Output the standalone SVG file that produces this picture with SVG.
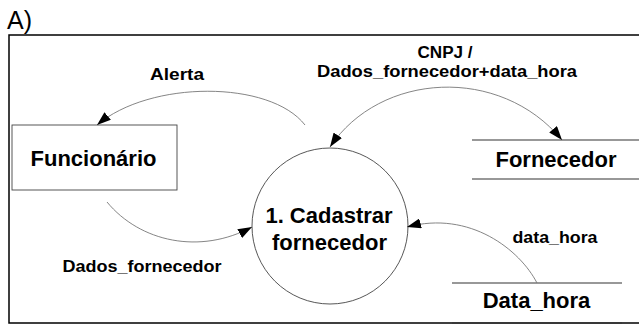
<svg xmlns="http://www.w3.org/2000/svg" width="639" height="325" viewBox="0 0 639 325">
<style>
.frame{fill:none;stroke:#000;stroke-width:1.5}
.node{fill:none;stroke:#444;stroke-width:0.9}
.store{stroke:#333;stroke-width:1.1}
.flow{fill:none;stroke:#777;stroke-width:0.9}
.nt{font-family:"Liberation Sans",Arial,sans-serif;font-weight:bold;font-size:22px;fill:#000;text-anchor:middle}
.lt{font-family:"Liberation Sans",Arial,sans-serif;font-weight:bold;font-size:16px;fill:#000;text-anchor:middle}
</style>
<defs>
<marker id="ah" viewBox="0 0 14 10" refX="14" refY="5" markerWidth="14" markerHeight="10" markerUnits="userSpaceOnUse" orient="auto-start-reverse">
<path d="M0,0 L14,5 L0,10 Z" fill="#000"/>
</marker>
</defs>
<rect fill="#fff" x="0" y="0" width="639" height="325"/>
<text x="7" y="29" font-family="Liberation Sans,Arial,sans-serif" font-size="25" fill="#000">A)</text>
<path class="frame" d="M640,35 H9 V323 H640"/>
<g id="funcionario">
<rect class="node" x="12" y="125" width="165" height="65"/>
<text class="nt" x="93.5" y="166">Funcionário</text>
</g>
<g id="processo">
<circle class="node" cx="330" cy="226" r="78"/>
<text class="nt" x="329" y="223">1. Cadastrar</text>
<text class="nt" x="329.5" y="250">fornecedor</text>
</g>
<g id="fornecedor">
<line class="store" x1="472" y1="140" x2="639" y2="140"/>
<line class="store" x1="472" y1="179" x2="639" y2="179"/>
<text class="nt" x="556" y="167">Fornecedor</text>
</g>
<g id="datahora">
<line class="store" x1="452" y1="283" x2="622" y2="283"/>
<line class="store" x1="452" y1="323" x2="622" y2="323"/>
<text class="nt" x="536.5" y="308">Data_hora</text>
</g>
<g id="connectors">
<path class="flow" d="M305,125 C270,80 150,80 97,125" marker-end="url(#ah)"/>
<path class="flow" d="M330,147 C380,72 500,65 562,140" marker-start="url(#ah)" marker-end="url(#ah)"/>
<path class="flow" d="M107,202 C140,242 200,255 252,227" marker-end="url(#ah)"/>
<path class="flow" d="M537,283 C520,250 470,210 407,227" marker-end="url(#ah)"/>
<text class="lt" x="177" y="80" textLength="54" lengthAdjust="spacingAndGlyphs">Alerta</text>
<text class="lt" x="445" y="58" textLength="55" lengthAdjust="spacingAndGlyphs">CNPJ /</text>
<text class="lt" x="447" y="77" textLength="260" lengthAdjust="spacingAndGlyphs">Dados_fornecedor+data_hora</text>
<text class="lt" x="142" y="272" textLength="159" lengthAdjust="spacingAndGlyphs">Dados_fornecedor</text>
<text class="lt" x="555" y="243" textLength="85" lengthAdjust="spacingAndGlyphs">data_hora</text>
</g>
</svg>
